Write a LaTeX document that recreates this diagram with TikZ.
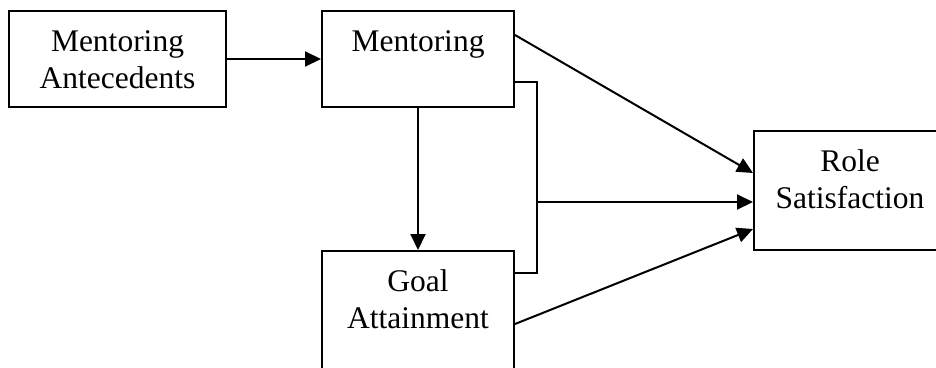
\documentclass[tikz,border=0pt]{standalone}
\usepackage{fontspec}
\setmainfont{Liberation Serif}
\usetikzlibrary{arrows.meta}
\newcommand{\boxtxt}[3]{\parbox[c][#2][t]{#1}{\centering\rule{0pt}{40pt}#3}}
\begin{document}
\begin{tikzpicture}[x=1pt,y=-1pt,line width=2pt,
    font=\fontsize{31.5}{37}\selectfont,
    box/.style={draw,inner sep=0pt,anchor=north west},
    >={Triangle[length=16pt,width=15pt]}]
  \useasboundingbox (0,0) rectangle (936,367);
  \clip (0,0) rectangle (936,367);
  \draw
    (8,10) node[box] (ante) {\boxtxt{217pt}{96pt}{Mentoring\\Antecedents}}
    (321,10) node[box] (ment) {\boxtxt{192pt}{96pt}{Mentoring}}
    (321,250) node[box] (goal) {\boxtxt{192pt}{119pt}{Goal\\Attainment}}
    (753,130) node[box] (role) {\boxtxt{192pt}{119pt}{Role\\Satisfaction}};
  \coordinate (join) at (537,202);
  \begin{scope}[->]
    \draw (ante) to (ment);
    \draw (ment) to (goal);
    \draw ([yshift=-25pt]ment.north east) to ([yshift=-43pt]role.north west);
    \draw (join) to (join -| role.west);
    \draw ([yshift=47pt]goal.south east) to ([yshift=22pt]role.south west);
  \end{scope}
  \draw ([yshift=-72pt]ment.north east) -| (join)
    |- ([yshift=-23pt]goal.north east);
\end{tikzpicture}
\end{document}
